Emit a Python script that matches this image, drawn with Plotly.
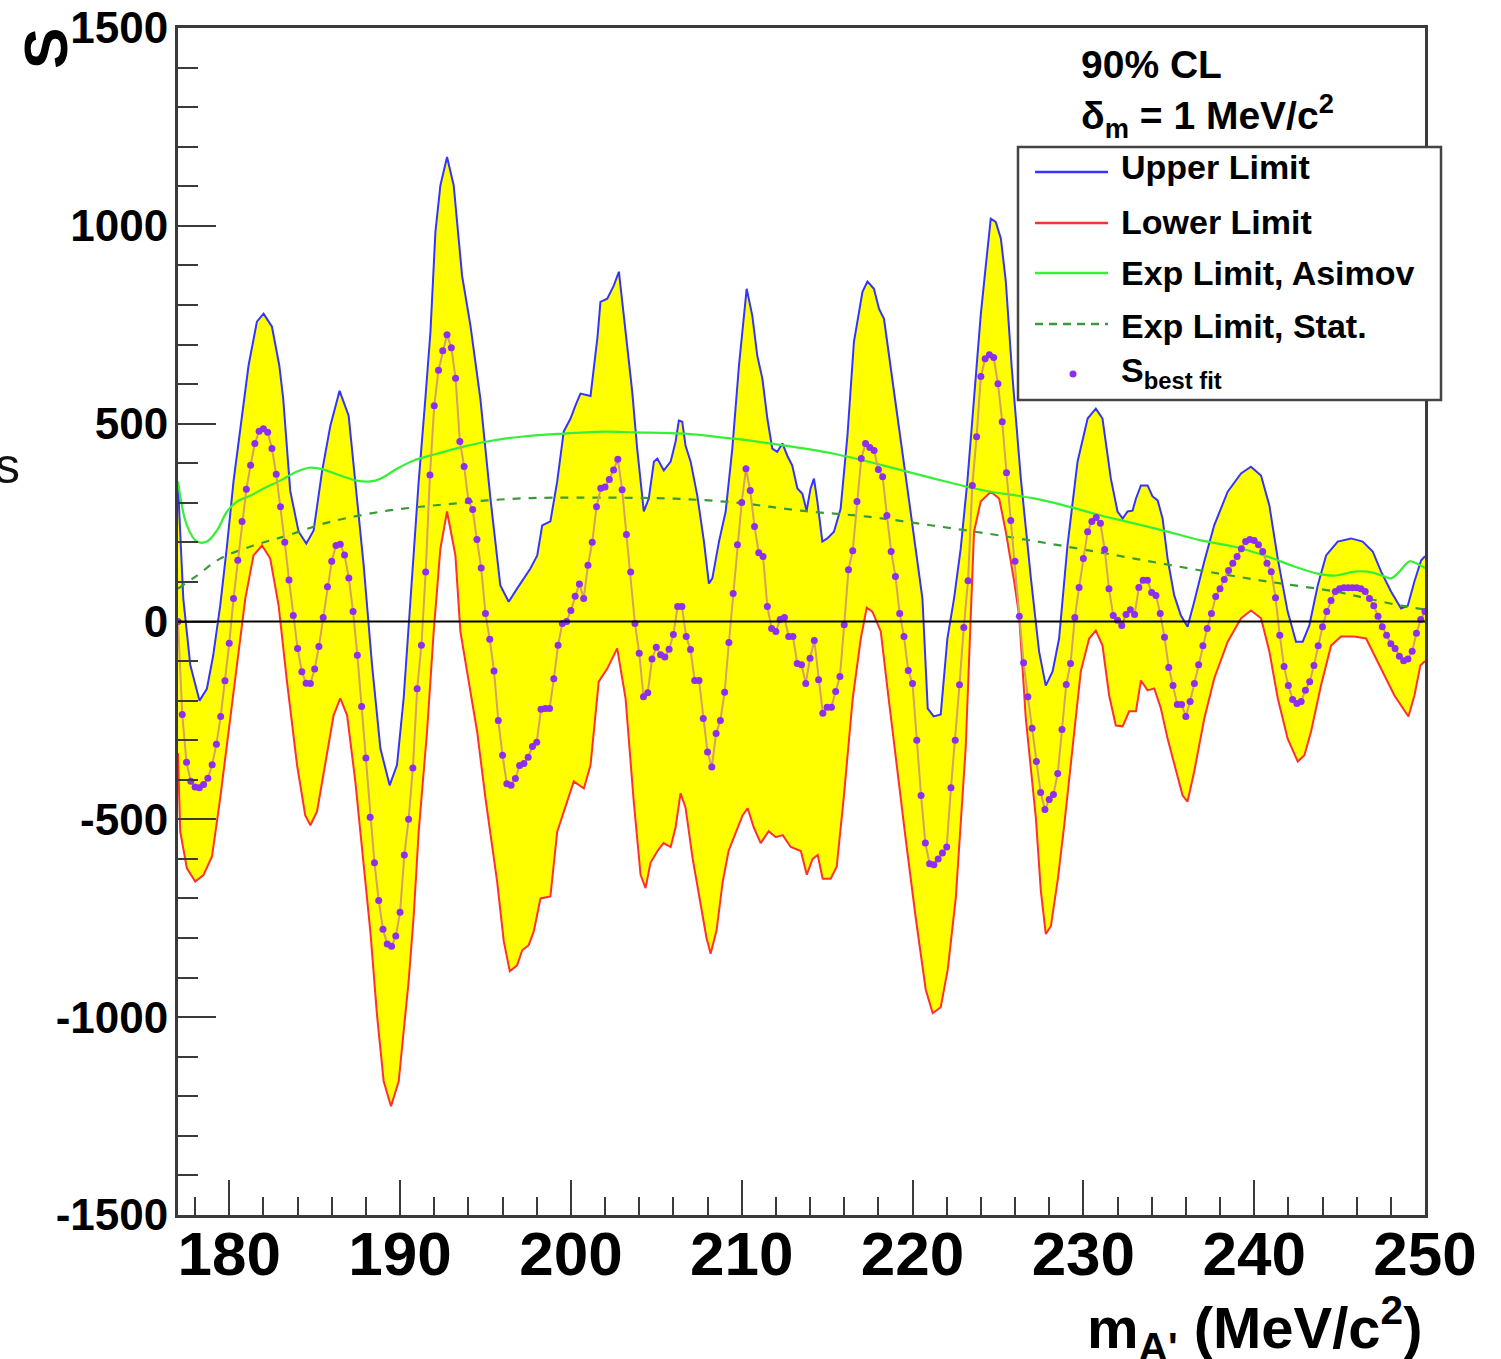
import numpy as np
import plotly.graph_objects as go

# ---------------------------------------------------------------- data
# Best-fit signal yield, scanned in 0.25 MeV steps from 177 to 250 MeV
mass_fit = np.round(np.arange(177.0, 250.0 + 1e-9, 0.25), 2)
s_best_fit = [
    0, -235, -356, -404, -418, -420, -412, -396, -362, -310,
    -240, -150, -55, 58, 155, 253, 334, 395, 450, 481,
    487, 478, 437, 372, 290, 200, 105, 15, -68, -127,
    -156, -157, -120, -63, 10, 88, 152, 192, 195, 168,
    110, 25, -85, -215, -345, -495, -610, -705, -778, -815,
    -821, -795, -735, -590, -500, -370, -170, -60, 125, 370,
    545, 635, 684, 725, 692, 615, 455, 392, 305, 283,
    207, 135, 20, -45, -125, -250, -338, -410, -414, -397,
    -364, -359, -343, -316, -305, -222, -220, -220, -145, -60,
    -5, 0, 28, 64, 95, 58, 142, 200, 290, 337,
    340, 359, 383, 410, 333, 220, 125, -5, -80, -190,
    -180, -95, -65, -84, -90, -70, -33, 38, 38, -38,
    -71, -149, -149, -245, -330, -368, -283, -250, -179, -53,
    71, 194, 301, 386, 331, 240, 174, 164, 38, -18,
    -25, 5, 10, -38, -38, -106, -109, -157, -93, -48,
    -147, -232, -217, -217, -177, -139, -8, 131, 179, 303,
    412, 450, 440, 432, 384, 366, 268, 177, 114, 20,
    -38, -124, -157, -300, -440, -560, -612, -615, -600, -585,
    -570, -420, -300, -160, -15, 103, 344, 467, 619, 664,
    674, 667, 601, 505, 376, 255, 152, 13, -104, -190,
    -270, -354, -432, -475, -450, -437, -384, -273, -159, -106,
    10, 86, 159, 227, 253, 263, 248, 182, 83, 15,
    3, -10, 18, 30, 18, 86, 104, 104, 73, 66,
    20, -40, -116, -162, -210, -210, -240, -202, -157, -109,
    -61, -18, 20, 63, 83, 106, 129, 147, 164, 184,
    202, 207, 205, 194, 177, 147, 126, 60, -35, -114,
    -162, -197, -207, -202, -174, -152, -111, -61, -13, 25,
    53, 76, 83, 85, 85, 85, 85, 83, 76, 58,
    40, 13, -13, -35, -56, -68, -88, -99, -95, -75,
    -30, 5, 25,
]

# 90% CL upper limit on S
mass_upper = [
    177.0, 177.31, 177.72, 178.26, 178.69, 179.06, 179.47, 179.87, 180.25, 180.64,
    181.13, 181.62, 182.01, 182.5, 182.93, 183.16, 183.57, 184.06, 184.51, 184.94,
    185.43, 185.92, 186.46, 186.99, 187.38, 187.87, 188.36, 188.85, 189.39, 189.82,
    190.21, 190.6, 191.09, 191.48, 191.78, 192.07, 192.36, 192.75, 193.14, 193.63,
    194.12, 194.7, 195.29, 195.87, 196.36, 196.85, 197.24, 197.63, 198.03, 198.32,
    198.8, 199.2, 199.58, 199.98, 200.27, 200.56, 201.15, 201.56, 201.73, 202.13,
    202.51, 202.81, 203.2, 203.59, 203.88, 204.27, 204.56, 204.86, 205.06, 205.44,
    205.84, 206.13, 206.32, 206.52, 206.71, 207.01, 207.4, 207.79, 208.08, 208.28,
    208.67, 209.06, 209.45, 209.84, 210.29, 210.62, 210.91, 211.21, 211.5, 211.79,
    212.08, 212.38, 212.67, 212.96, 213.26, 213.55, 213.8, 214.03, 214.23, 214.43,
    214.72, 215.01, 215.4, 215.79, 216.19, 216.57, 217.07, 217.36, 217.74, 218.04,
    218.33, 218.72, 219.11, 219.7, 220.19, 220.58, 220.89, 221.24, 221.65, 222.04,
    222.43, 222.82, 223.21, 223.6, 223.99, 224.29, 224.58, 224.87, 225.17, 225.46,
    225.81, 226.34, 226.93, 227.41, 227.8, 228.2, 228.58, 229.07, 229.66, 230.25,
    230.73, 231.12, 231.61, 232.0, 232.3, 232.59, 232.88, 233.08, 233.37, 233.76,
    234.05, 234.35, 234.64, 234.93, 235.32, 235.71, 236.1, 236.49, 237.08, 237.66,
    238.45, 239.23, 239.81, 240.4, 240.89, 241.38, 241.96, 242.45, 242.84, 243.23,
    243.72, 244.21, 244.89, 245.67, 246.35, 246.94, 247.43, 248.01, 248.6, 248.99,
    249.38, 249.77, 250.0,
]
s_upper = [
    345, 58, -110, -200, -170, -86, 40, 192, 354, 480,
    647, 758, 778, 745, 647, 563, 330, 227, 197, 230,
    379, 495, 583, 520, 354, 142, -110, -321, -414, -363,
    -194, 58, 354, 563, 733, 985, 1102, 1174, 1102, 874,
    748, 563, 311, 91, 50, 83, 109, 134, 167, 243,
    253, 354, 480, 513, 546, 576, 570, 720, 808, 816,
    849, 884, 733, 581, 437, 278, 311, 404, 412, 382,
    404, 455, 508, 505, 445, 404, 318, 202, 96, 109,
    202, 278, 437, 647, 841, 773, 672, 614, 513, 437,
    429, 450, 419, 394, 336, 323, 280, 336, 361, 303,
    202, 210, 227, 285, 470, 707, 833, 859, 841, 790,
    765, 647, 520, 336, 184, 58, -220, -240, -235, -43,
    58, 184, 354, 563, 773, 900, 1018, 1010, 968, 860,
    640, 361, 109, -76, -162, -126, -43, 192, 404, 513,
    538, 513, 361, 278, 260, 278, 280, 311, 344, 344,
    316, 306, 260, 159, 66, 15, -13, 50, 152, 243,
    328, 374, 391, 369, 293, 159, 25, -51, -51, -10,
    91, 167, 202, 210, 202, 177, 126, 76, 33, 40,
    101, 154, 165,
]

# 90% CL lower limit on S
mass_lower = [
    177.0, 177.13, 177.52, 178.01, 178.49, 178.99, 179.47, 179.96, 180.45, 180.94,
    181.42, 181.92, 182.4, 182.89, 183.38, 183.97, 184.45, 184.75, 185.14, 185.62,
    186.11, 186.5, 186.9, 187.38, 187.77, 188.26, 188.65, 189.04, 189.47, 189.92,
    190.21, 190.5, 190.8, 191.09, 191.58, 191.97, 192.36, 192.75, 193.24, 193.53,
    194.02, 194.51, 195.0, 195.39, 195.68, 196.07, 196.42, 196.85, 197.15, 197.53,
    197.83, 198.22, 198.8, 199.2, 199.58, 200.17, 200.76, 201.15, 201.63, 202.13,
    202.71, 203.2, 203.67, 204.08, 204.37, 204.66, 205.07, 205.42, 205.84, 206.13,
    206.42, 206.71, 207.13, 207.59, 207.94, 208.18, 208.53, 208.88, 209.23, 209.64,
    210.05, 210.35, 210.7, 211.11, 211.58, 211.99, 212.4, 212.87, 213.46, 213.81,
    214.15, 214.45, 214.74, 215.21, 215.56, 215.97, 216.5, 216.97, 217.32, 217.65,
    218.14, 218.53, 219.02, 219.6, 220.19, 220.77, 221.18, 221.65, 222.06, 222.53,
    223.11, 223.6, 223.99, 224.58, 225.07, 225.46, 225.95, 226.24, 226.63, 227.22,
    227.51, 227.8, 228.1, 228.51, 228.88, 229.37, 229.85, 230.34, 230.73, 231.12,
    231.51, 231.9, 232.3, 232.68, 233.08, 233.37, 233.76, 234.15, 234.54, 234.93,
    235.42, 235.81, 236.1, 236.49, 237.08, 237.66, 238.45, 239.23, 239.81, 240.4,
    240.89, 241.38, 241.96, 242.55, 242.94, 243.33, 243.91, 244.5, 245.08, 245.86,
    246.55, 247.03, 247.62, 248.21, 248.7, 249.03, 249.38, 249.73, 250.0,
]
s_lower = [
    -333, -531, -624, -657, -641, -594, -447, -278, -110, 58,
    167, 192, 159, 40, -152, -363, -490, -515, -480, -363,
    -237, -194, -237, -404, -568, -783, -995, -1162, -1225, -1162,
    -1036, -910, -743, -531, -278, -25, 184, 278, 167, -25,
    -152, -278, -447, -568, -657, -808, -884, -869, -831, -818,
    -783, -700, -695, -531, -480, -404, -422, -363, -152, -119,
    -68, -194, -450, -640, -674, -610, -580, -560, -570, -520,
    -434, -470, -600, -720, -800, -840, -780, -660, -580, -535,
    -490, -472, -520, -560, -530, -545, -540, -570, -580, -640,
    -600, -590, -650, -650, -620, -447, -194, -43, 35, 25,
    -25, -169, -350, -550, -750, -930, -990, -975, -880, -700,
    -321, 227, 303, 328, 311, 227, 101, 15, -245, -497,
    -680, -790, -770, -650, -515, -313, -126, -43, -23, -61,
    -187, -263, -265, -227, -227, -149, -174, -169, -220, -296,
    -379, -440, -455, -379, -245, -144, -51, 8, 28, 8,
    -76, -194, -296, -354, -338, -278, -162, -61, -38, -38,
    -43, -86, -136, -187, -220, -240, -187, -111, -100,
]

# Expected limit from the Asimov data set
mass_asimov = [
    177.0, 177.52, 178.11, 178.69, 179.28, 179.87, 180.45, 181.23, 182.01, 182.99,
    183.97, 184.75, 185.52, 186.5, 187.48, 188.26, 188.85, 189.82, 190.8, 192.17,
    193.53, 195.1, 197.05, 199.58, 201.93, 203.69, 206.61, 209.54, 212.47, 215.4,
    218.33, 221.26, 224.19, 227.12, 229.07, 231.03, 232.98, 234.93, 236.88, 238.83,
    240.79, 242.35, 243.72, 244.7, 245.87, 246.65, 247.62, 248.01, 248.5, 249.09,
    249.48, 250.0,
]
s_asimov = [
    354, 243, 202, 202, 230, 278, 303, 318, 336, 356,
    379, 389, 384, 369, 356, 354, 361, 386, 407, 424,
    440, 455, 467, 475, 480, 478, 475, 462, 445, 424,
    394, 361, 331, 311, 291, 268, 248, 227, 205, 189,
    164, 139, 121, 116, 126, 126, 114, 109, 126, 152,
    147, 135,
]

# Expected limit, statistical only
mass_stat = [
    177.0, 178.11, 179.47, 181.42, 183.38, 185.33, 187.28, 189.24, 191.19, 193.14,
    195.1, 197.05, 199.0, 201.73, 205.64, 209.54, 213.46, 217.36, 221.26, 225.17,
    229.07, 232.98, 236.88, 240.79, 244.7, 246.65, 248.6, 250.0,
]
s_stat = [
    83, 116, 159, 192, 217, 245, 265, 280, 290, 298,
    306, 311, 313, 313, 311, 301, 280, 265, 242, 217,
    189, 159, 129, 101, 76, 58, 40, 30,
]

y_tick_vals = [-1500, -1000, -500, 0, 500, 1000, 1500]
y_tick_text = ["-1500", "-1000", "-500", "0", "500", "1000", "1500"]

legend_labels = ["Upper Limit", "Lower Limit", "Exp Limit, Asimov",
                 "Exp Limit, Stat.", "S<sub>best fit</sub>"]

# ---------------------------------------------------------------- style
C_UPPER = "#3434ff"
C_LOWER = "#ff3030"
C_BAND = "#ffff00"
C_ASIMOV = "#35f035"
C_STAT = "#3a9a3a"
C_FITLINE = "#d5a060"
C_FITMARK = "#8d2ef0"
C_FRAME = "#3a3a3a"
FONT = "Liberation Sans, Arial, Helvetica, sans-serif"

W, H = 1501, 1359
ML, MR, MT, MB = 178, 76, 28, 144
PW, PH = W - ML - MR, H - MT - MB


def px_x(px):
    """Horizontal page pixel -> paper fraction."""
    return (px - ML) / PW


def px_y(py):
    """Vertical page pixel -> paper fraction."""
    return 1 - (py - MT) / PH


fig = go.Figure()

# yellow band between lower and upper limits
fig.add_trace(go.Scatter(x=mass_upper, y=s_upper, mode="lines",
                         line=dict(width=0, color=C_BAND),
                         hoverinfo="skip", showlegend=False))
fig.add_trace(go.Scatter(x=mass_lower, y=s_lower, mode="lines",
                         line=dict(width=0, color=C_BAND),
                         fill="tonexty", fillcolor=C_BAND,
                         hoverinfo="skip", showlegend=False))

# limit curves
fig.add_trace(go.Scatter(x=mass_upper, y=s_upper, mode="lines",
                         name="Upper Limit",
                         line=dict(color=C_UPPER, width=2)))
fig.add_trace(go.Scatter(x=mass_lower, y=s_lower, mode="lines",
                         name="Lower Limit",
                         line=dict(color=C_LOWER, width=2)))
fig.add_trace(go.Scatter(x=mass_asimov, y=s_asimov, mode="lines",
                         name="Exp Limit, Asimov",
                         line=dict(color=C_ASIMOV, width=2.2,
                                   shape="spline", smoothing=1.0)))
fig.add_trace(go.Scatter(x=mass_stat, y=s_stat, mode="lines",
                         name="Exp Limit, Stat.",
                         line=dict(color=C_STAT, width=2.2, dash="8px,8px",
                                   shape="spline", smoothing=1.0)))

# best-fit points joined by a thin line
fig.add_trace(go.Scatter(x=mass_fit, y=s_best_fit, mode="lines+markers",
                         name="S best fit",
                         line=dict(color=C_FITLINE, width=2),
                         marker=dict(color=C_FITMARK, size=7,
                                     line=dict(width=0))))

axis_common = dict(showline=True, linecolor=C_FRAME, linewidth=3,
                   mirror=True, showgrid=False, zeroline=False,
                   automargin=False,
                   ticks="inside", tickwidth=2, tickcolor=C_FRAME)

fig.update_layout(
    width=W, height=H,
    margin=dict(l=ML, r=MR, t=MT, b=MB, pad=0, autoexpand=False),
    paper_bgcolor="white", plot_bgcolor="white",
    showlegend=False,
    font=dict(family=FONT, color="black"),
    xaxis=dict(
        range=[177, 250], tickmode="linear", tick0=180, dtick=10,
        ticklen=35,
        tickfont=dict(size=62, family=FONT, weight="bold", color="black"),
        ticklabelstandoff=-17,
        minor=dict(tickmode="linear", tick0=178, dtick=2, ticks="inside",
                   ticklen=18, tickwidth=2, tickcolor=C_FRAME,
                   showgrid=False),
        **axis_common,
    ),
    yaxis=dict(
        range=[-1500, 1500], tickmode="array",
        tickvals=y_tick_vals, ticktext=y_tick_text,
        ticklen=38,
        tickfont=dict(size=44, family=FONT, weight="bold", color="black"),
        ticklabelstandoff=-2,
        minor=dict(tickmode="linear", tick0=0, dtick=100, ticks="inside",
                   ticklen=20, tickwidth=2, tickcolor=C_FRAME,
                   showgrid=False),
        **axis_common,
    ),
)

shapes = []
# S = 0 reference line
shapes.append(dict(type="line", xref="paper", yref="y", x0=0, x1=1,
                   y0=0, y1=0, line=dict(color="black", width=2),
                   layer="above"))

# legend box
shapes.append(dict(type="rect", xref="paper", yref="paper",
                   x0=px_x(1018), x1=px_x(1441), y0=px_y(400), y1=px_y(147),
                   line=dict(color="#444444", width=2.5),
                   fillcolor="white", layer="above"))
legend_rows = [172, 223, 273, 324, 374]
legend_styles = [
    dict(color=C_UPPER, width=2.5),
    dict(color=C_LOWER, width=2.5),
    dict(color=C_ASIMOV, width=2.5),
    dict(color=C_STAT, width=2.5, dash="8px,6px"),
]
for row, style in zip(legend_rows[:4], legend_styles):
    shapes.append(dict(type="line", xref="paper", yref="paper",
                       x0=px_x(1035), x1=px_x(1108),
                       y0=px_y(row), y1=px_y(row), line=style,
                       layer="above"))
# marker sample for the best-fit entry
shapes.append(dict(type="circle", xref="paper", yref="paper",
                   x0=px_x(1069.5), x1=px_x(1076.5),
                   y0=px_y(377.5), y1=px_y(370.5),
                   fillcolor=C_FITMARK, line=dict(width=0), layer="above"))

annotations = []
legend_text_y = [167, 222, 273, 326, 372]
for label, ty in zip(legend_labels, legend_text_y):
    annotations.append(dict(text=f"<b>{label}</b>", xref="paper",
                            yref="paper", x=px_x(1119), y=px_y(ty),
                            xanchor="left", yanchor="middle",
                            showarrow=False,
                            font=dict(size=34, family=FONT, color="black")))

# confidence-level and mass-resolution labels
annotations.append(dict(text="<b>90% CL</b>", xref="paper", yref="paper",
                        x=px_x(1079), y=px_y(64), xanchor="left",
                        yanchor="middle", showarrow=False,
                        font=dict(size=39, family=FONT, color="black")))
annotations.append(dict(text="<b>δ<sub>m</sub> = 1 MeV/c<sup>2</sup></b>",
                        xref="paper", yref="paper",
                        x=px_x(1079), y=px_y(116), xanchor="left",
                        yanchor="middle", showarrow=False,
                        font=dict(size=39, family=FONT, color="black")))

# axis titles
annotations.append(dict(text="<b>m<sub>A'</sub> (MeV/c<sup>2</sup>)</b>",
                        xref="paper", yref="paper",
                        x=px_x(1425), y=px_y(1328), xanchor="right",
                        yanchor="middle", showarrow=False,
                        font=dict(size=58, family=FONT, color="black")))
annotations.append(dict(text="<b>S</b>", xref="paper", yref="paper",
                        x=px_x(45), y=px_y(49), xanchor="center",
                        yanchor="middle", textangle=-90, showarrow=False,
                        font=dict(size=62, family=FONT, color="black")))

# stray glyph at the left page edge
annotations.append(dict(text="s", xref="paper", yref="paper",
                        x=px_x(-7), y=px_y(466), xanchor="left",
                        yanchor="middle", showarrow=False,
                        font=dict(size=50, family=FONT, color="#111111")))

fig.update_layout(shapes=shapes, annotations=annotations)

fig.write_html("out.html")
